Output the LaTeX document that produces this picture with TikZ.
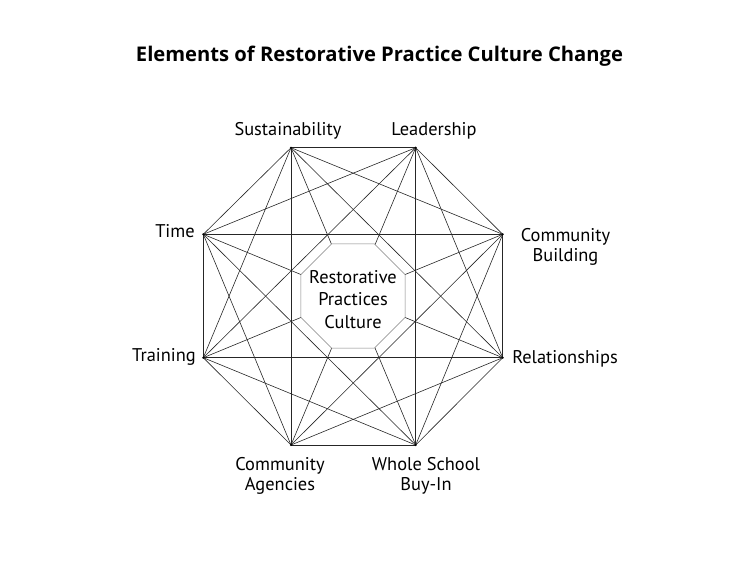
\documentclass[tikz,border=0pt]{standalone}
\usepackage{fontspec}
\setmainfont{PT Sans}
\newfontfamily\titlefont{Open Sans}
\begin{document}
\begin{tikzpicture}[x=1pt,y=-1pt,
  edge/.style={line width=0.6pt, black!85},
  inner/.style={line width=0.5pt, draw=black!50, fill=white},
  lbl/.style={font=\fontsize{18.4}{20}\selectfont, anchor=base, align=center, inner sep=0pt},
  ttl/.style={font=\titlefont\fontsize{20.2}{24}\selectfont\bfseries, anchor=base, inner sep=0pt},
  dot/.style={fill=black, circle, inner sep=0pt, minimum size=2.4pt}]
\useasboundingbox (0,0) rectangle (754,579);
\coordinate (v0) at (291,147.7);
\coordinate (v1) at (415.7,147.7);
\coordinate (v2) at (502.7,234.3);
\coordinate (v3) at (502.7,357.7);
\coordinate (v4) at (415.7,445);
\coordinate (v5) at (291,445);
\coordinate (v6) at (203.3,357.7);
\coordinate (v7) at (203.3,234.3);
\foreach \i in {0,...,6}{
  \pgfmathtruncatemacro\s{\i+1}
  \foreach \j in {\s,...,7}{\draw[edge] (v\i) -- (v\j);}
}
\foreach \i in {0,...,7}{\node[dot] (d\i) at (v\i) {};}
\coordinate (c) at (353,296);
\draw[inner, shift={(c)}] (22.5:56.3) -- (67.5:56.3) -- (112.5:56.3) -- (157.5:56.3) -- (202.5:56.3) -- (247.5:56.3) -- (292.5:56.3) -- (337.5:56.3) -- cycle;
\node[lbl, font=\fontsize{18.4}{22.5}\selectfont] (centre) at (353,328.3) {Restorative\\Practices\\Culture};
\node[ttl] (title) at (379.5,61.7) {Elements of Restorative Practice Culture Change};
\node[lbl] (l0) at (288,135) {Sustainability};
\node[lbl] (l1) at (434,135) {Leadership};
\node[lbl] (l2) at (565.5,261) {Community\\Building};
\node[lbl] (l3) at (565,363.3) {Relationships};
\node[lbl] (l4) at (426,490) {Whole School\\Buy-In};
\node[lbl] (l5) at (280,490) {Community\\Agencies};
\node[lbl] (l6) at (164,361.7) {Training};
\node[lbl] (l7) at (175,237.7) {Time};
\end{tikzpicture}
\end{document}
